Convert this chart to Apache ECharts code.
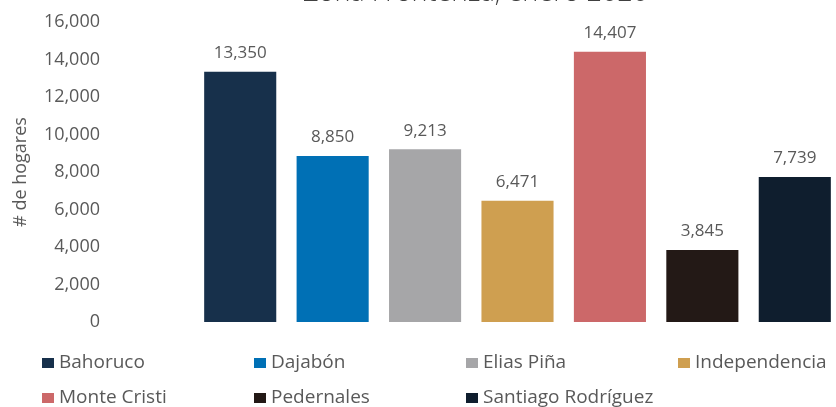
<!DOCTYPE html>
<html>
<head>
<meta charset="utf-8">
<script src="https://cdn.jsdelivr.net/npm/echarts@6/dist/echarts.min.js"></script>
<style>html,body{margin:0;padding:0;background:#fff}#c{width:836px;height:407px}</style>
</head>
<body>
<div id="c"></div>
<script>
var titleText = 'Zona Fronteriza, enero 2020';
var yAxisName = '# de hogares';
var categories = ['Bahoruco', 'Dajabón', 'Elias Piña', 'Independencia', 'Monte Cristi', 'Pedernales', 'Santiago Rodríguez'];
var values = [13350, 8850, 9213, 6471, 14407, 3845, 7739];
var colors = ['#17304b', '#0070b5', '#a6a6a8', '#cf9f50', '#cc6869', '#231916', '#0f1e2e'];
var yTicks = [0, 2000, 4000, 6000, 8000, 10000, 12000, 14000, 16000];

var fmt = function (v) { return Number(v).toLocaleString('en-US'); };
var FONT = '"Open Sans", sans-serif';

var series = categories.map(function (name, i) {
  return {
    name: name,
    type: 'bar',
    stack: 'all',
    barWidth: '78%',
    itemStyle: { color: colors[i] },
    label: {
      show: true, position: 'top', distance: 10,
      fontFamily: FONT, fontSize: 17, color: '#595959',
      formatter: function (p) { return fmt(p.value); }
    },
    data: categories.map(function (c, j) { return j === i ? values[i] : '-'; })
  };
});

var legendData = categories.map(function (name) {
  return name === 'Independencia' ? { name: name, textStyle: { width: 135 } } : name;
});

var chart = echarts.init(document.getElementById('c'), null, { renderer: 'canvas' });
chart.setOption({
  animation: false,
  backgroundColor: '#ffffff',
  title: {
    text: titleText,
    left: 303, top: -20,
    padding: 0,
    textStyle: { fontFamily: FONT, fontSize: 27, fontWeight: 300, color: '#404040' }
  },
  grid: { left: 194, top: 22, width: 647, height: 300, containLabel: false, outerBoundsMode: 'none' },
  xAxis: {
    type: 'category', data: categories,
    axisLine: { show: false }, axisTick: { show: false }, axisLabel: { show: false },
    splitLine: { show: false }
  },
  yAxis: {
    type: 'value', min: yTicks[0], max: yTicks[yTicks.length - 1], interval: 2000,
    name: yAxisName, nameLocation: 'middle', nameGap: 164, nameRotate: 90,
    nameTextStyle: { fontFamily: FONT, fontSize: 18, color: '#595959' },
    axisLine: { show: false }, axisTick: { show: false }, splitLine: { show: false },
    axisLabel: { margin: 94, fontFamily: FONT, fontSize: 18, color: '#595959', formatter: fmt }
  },
  legend: {
    data: legendData,
    left: 37, top: 345.5, width: 820,
    icon: 'rect', itemWidth: 12, itemHeight: 10, itemGap: 10,
    textStyle: { fontFamily: FONT, fontSize: 19, color: '#595959', width: 185, lineHeight: 25 }
  },
  series: series
});
</script>
</body>
</html>
